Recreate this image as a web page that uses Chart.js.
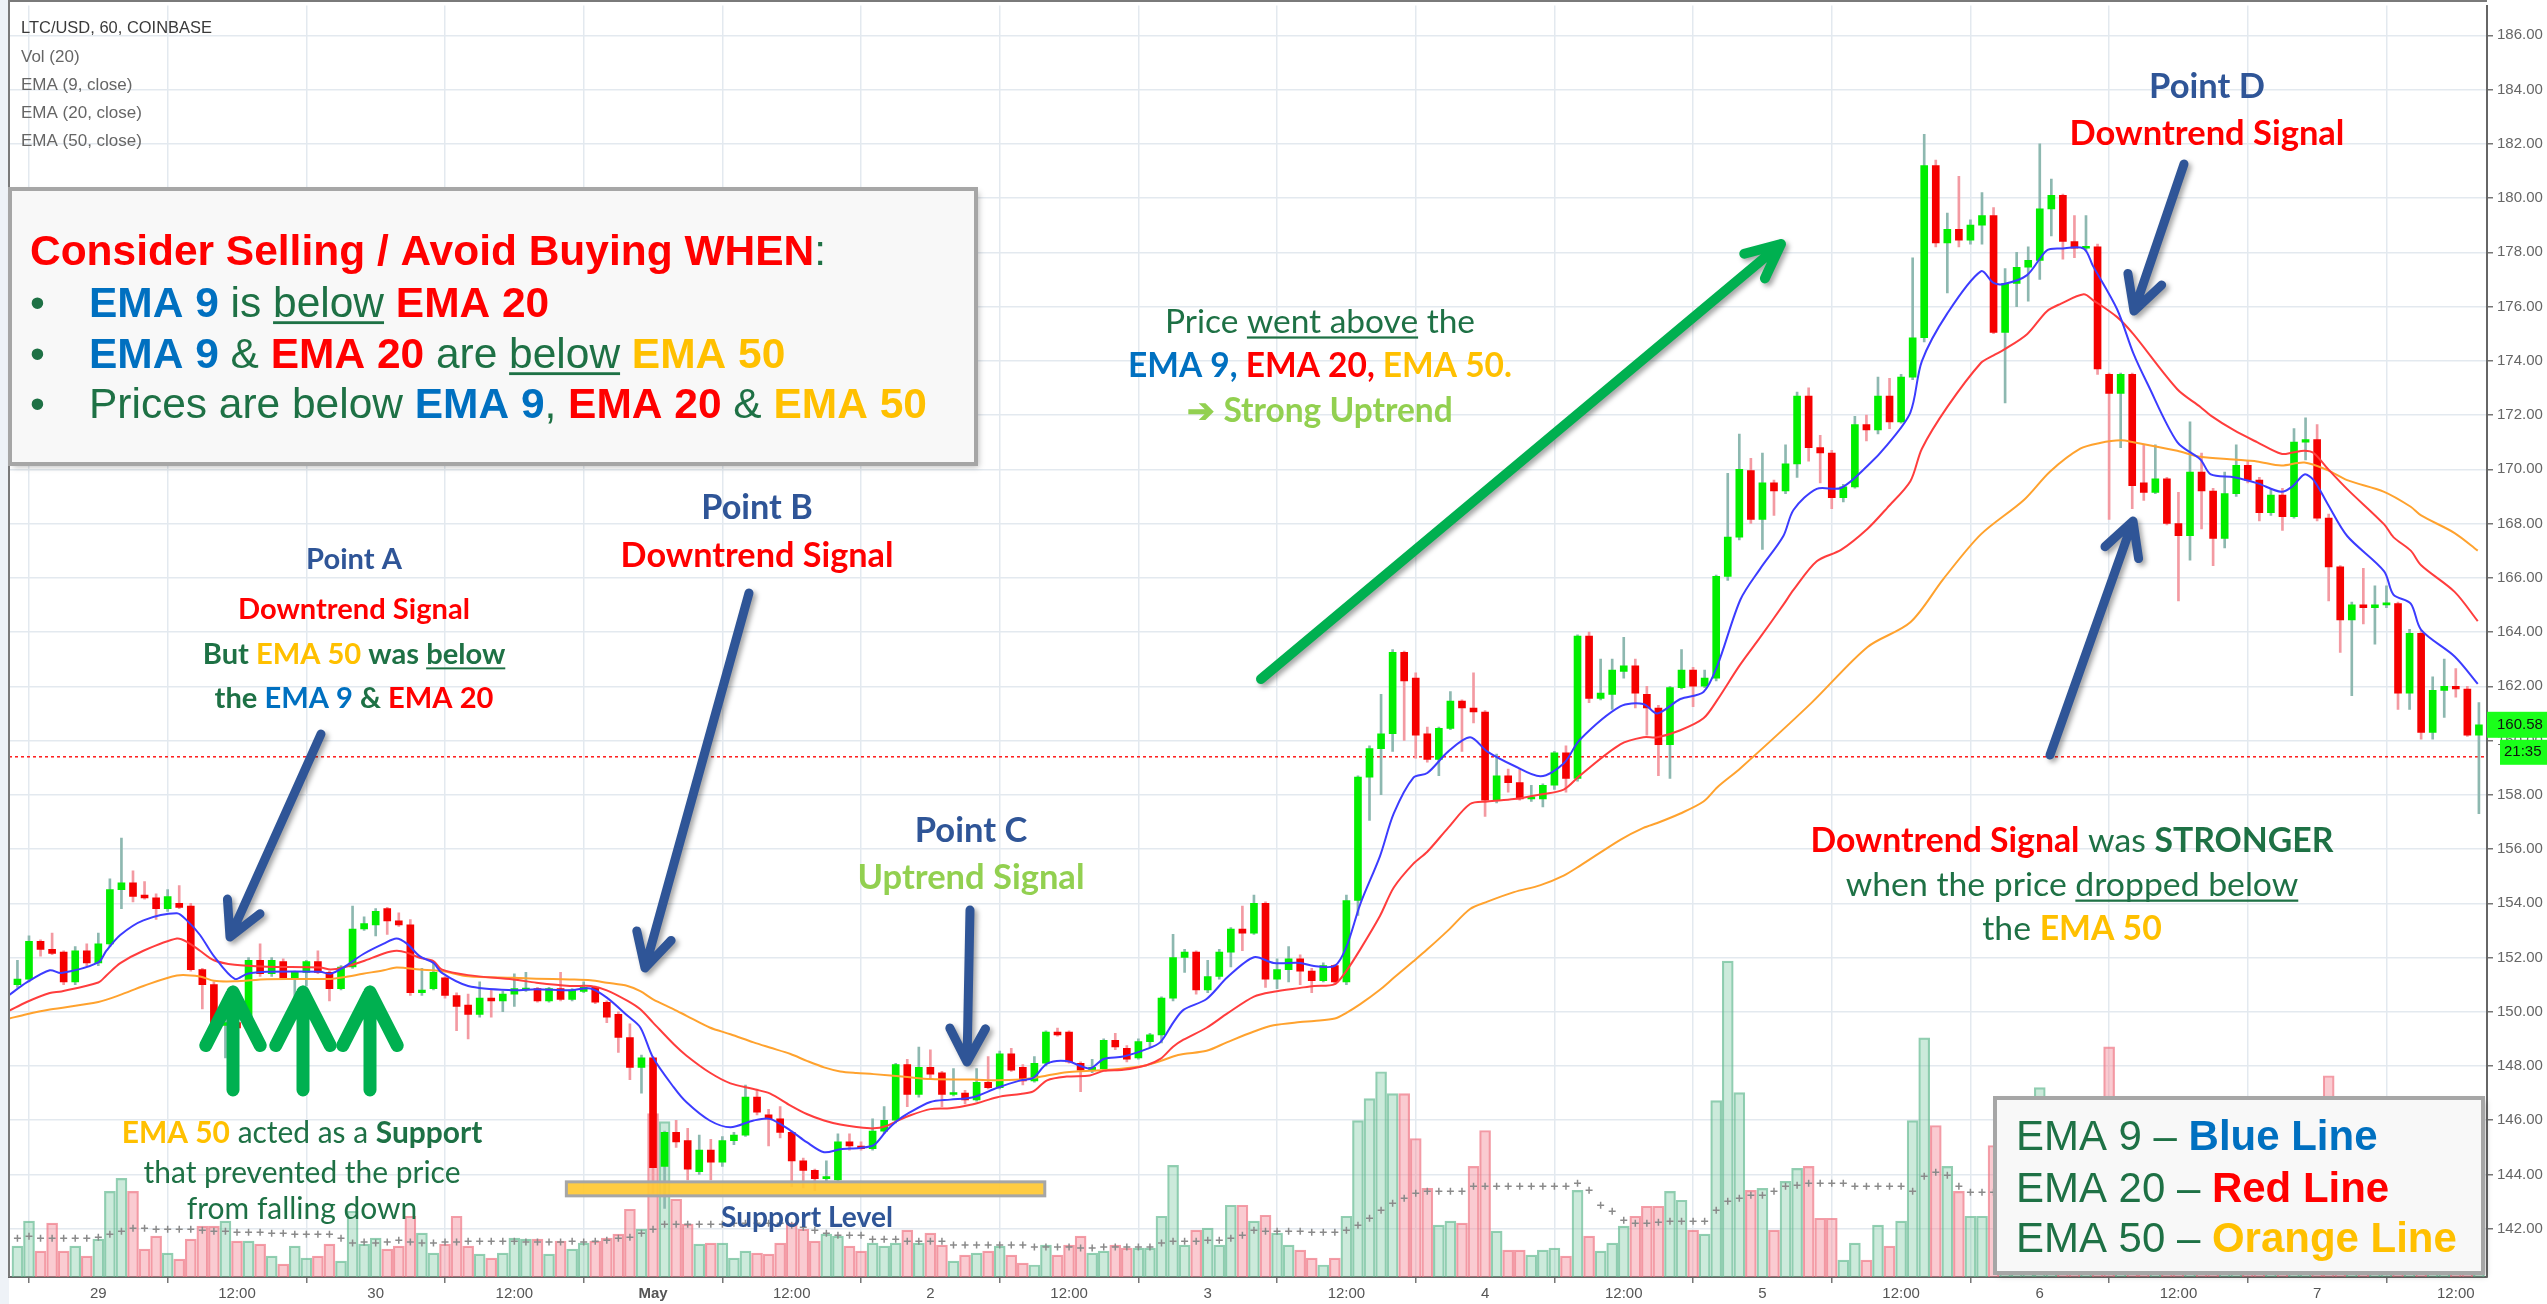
<!DOCTYPE html>
<html lang="en">
<head>
<meta charset="UTF-8">
<title>LTC/USD 60 - EMA signals</title>
<script src="https://cdn.jsdelivr.net/npm/chart.js"></script>
<style>
  html, body { margin: 0; padding: 0; background: #fff; overflow: hidden; }
</style>
</head>
<body>
<canvas id="chart" width="2547" height="1304"></canvas>
<script>
// hours counted from 29 Apr 00:00, one candle per hour
const firstHour = -7;

const opens = [
  151.0, 151.2, 152.6, 152.3, 152.2, 151.1, 152.25, 151.8,
  152.5, 154.5, 154.75, 154.3, 154.2, 153.8, 154.0, 153.9, 151.55, 151.0,
  149.5, 149.6, 149.4, 151.9, 151.4, 151.85, 151.25, 151.45, 151.85, 151.45,
  150.85, 151.65, 153.05, 153.2, 153.8, 153.35, 153.2, 150.7, 150.85, 151.25,
  150.6, 150.25, 149.9, 150.5, 150.4, 150.65, 150.8, 150.85, 150.4, 150.85,
  150.45, 150.75, 150.9, 150.35, 149.9, 149.05, 147.95, 148.3, 144.3, 145.55,
  145.25, 144.1, 144.9, 144.45, 145.25, 145.45, 146.85, 146.2, 146.05, 145.55,
  144.5, 144.15, 143.85, 143.8, 145.2, 145.05, 144.95, 145.6, 146.0, 148.05,
  146.95, 147.95, 147.75, 146.95, 147.0, 146.75, 147.4, 147.2, 148.45, 147.95,
  147.45, 148.1, 149.25, 149.25, 148.1, 147.85, 147.9, 148.95, 148.65, 148.3,
  148.9, 149.15, 150.5, 152.0, 152.2, 150.8, 151.3, 152.2, 153.05, 152.9,
  154.0, 151.2, 151.55, 151.95, 151.5, 151.15, 151.7, 151.1, 154.1, 158.65,
  159.7, 160.25, 163.25, 162.3, 160.25, 159.3, 160.45, 161.45, 161.2, 161.05,
  157.8, 158.7, 158.45, 157.85, 157.85, 158.35, 159.55, 158.6, 163.85, 161.55,
  161.7, 162.55, 162.75, 161.7, 161.2, 159.85, 161.95, 162.6, 162.0, 162.3,
  166.05, 167.5, 169.95, 168.15, 169.5, 169.2, 170.2, 172.7, 170.8, 170.6,
  168.95, 169.35, 171.65, 171.45, 172.7, 171.75, 173.4, 174.85, 181.2, 178.35,
  178.85, 178.45, 179.0, 179.35, 175.05, 176.85, 177.45, 177.7, 179.6, 180.1,
  178.4, 178.15, 178.2, 173.5, 172.8, 173.5, 169.5, 169.15, 169.65, 168.0,
  167.55, 169.9, 169.2, 167.45, 169.1, 170.15, 169.6, 168.4, 169.05, 168.25,
  171.0, 171.1, 168.2, 166.4, 164.45, 165.0, 164.9, 165.0, 165.05, 161.75,
  163.95, 160.3, 161.85, 162.0, 161.9, 160.2
];
const highs = [
  151.9, 152.8, 152.65, 152.9, 152.25, 152.4, 152.5, 152.9,
  154.9, 156.4, 155.2, 154.8, 154.35, 154.5, 154.65, 154.0, 151.6, 151.1,
  149.8, 149.7, 152.0, 152.5, 152.0, 151.95, 151.5, 151.9, 152.25, 151.5,
  151.7, 153.9, 153.5, 153.8, 153.85, 153.65, 153.4, 151.6, 151.8, 151.3,
  150.7, 150.65, 151.1, 150.8, 150.75, 151.4, 151.45, 150.9, 150.9, 151.45,
  150.85, 151.1, 150.95, 150.4, 150.0, 149.55, 148.4, 148.35, 145.6, 146.0,
  145.7, 145.45, 145.3, 145.4, 145.55, 147.3, 147.15, 146.4, 146.5, 145.6,
  144.6, 144.2, 144.5, 145.5, 145.5, 145.2, 146.05, 146.5, 148.1, 148.25,
  148.7, 148.6, 147.8, 147.9, 147.1, 147.9, 148.35, 148.55, 148.65, 148.05,
  148.35, 149.3, 149.4, 149.3, 148.15, 148.25, 149.0, 149.2, 148.75, 149.0,
  149.2, 150.55, 152.85, 152.3, 152.25, 151.9, 152.3, 153.1, 153.9, 154.3,
  154.05, 151.95, 152.4, 152.1, 151.6, 151.8, 151.75, 154.3, 158.7, 159.8,
  161.7, 163.35, 163.3, 162.5, 160.5, 160.5, 161.8, 161.5, 162.5, 161.1,
  159.5, 158.95, 158.95, 158.35, 158.4, 159.6, 159.8, 163.9, 164.0, 163.0,
  163.0, 163.8, 163.0, 162.0, 161.3, 162.0, 163.35, 162.7, 162.6, 166.1,
  169.85, 171.3, 170.4, 170.6, 169.6, 170.9, 172.85, 173.0, 171.25, 170.7,
  169.45, 171.95, 172.0, 173.4, 173.35, 173.5, 177.8, 182.35, 181.4, 179.45,
  180.8, 179.2, 180.2, 179.65, 177.4, 178.0, 178.2, 182.0, 180.7, 180.15,
  179.35, 179.35, 178.3, 173.55, 173.55, 173.55, 170.9, 170.9, 169.7, 169.15,
  171.75, 170.6, 169.3, 169.9, 170.9, 170.3, 169.7, 169.3, 169.3, 171.5,
  171.9, 171.65, 168.35, 166.45, 165.1, 166.35, 165.7, 165.7, 165.1, 164.1,
  164.05, 162.35, 163.0, 162.65, 162.0, 161.4
];
const lows = [
  150.9, 151.1, 152.05, 152.1, 151.0, 151.0, 151.7, 151.7,
  152.4, 153.8, 154.05, 154.15, 153.4, 153.7, 153.8, 151.5, 150.1, 149.4,
  148.3, 149.2, 149.3, 151.3, 151.3, 151.2, 150.2, 150.95, 151.4, 150.4,
  150.8, 151.6, 153.0, 152.8, 152.85, 153.15, 150.6, 150.6, 150.8, 150.5,
  149.3, 149.0, 149.8, 149.8, 150.0, 150.2, 150.75, 150.35, 150.35, 150.4,
  150.4, 150.7, 150.3, 149.6, 148.5, 147.5, 147.0, 143.3, 142.75, 145.0,
  143.8, 144.0, 143.8, 144.3, 145.1, 145.4, 146.2, 145.05, 145.35, 143.55,
  143.5, 143.4, 143.7, 143.7, 144.9, 144.9, 144.9, 145.5, 145.9, 146.5,
  146.85, 147.5, 146.5, 146.9, 146.6, 146.7, 147.15, 147.15, 147.8, 147.3,
  147.4, 148.0, 149.1, 148.1, 147.05, 147.75, 147.85, 148.6, 148.15, 148.25,
  148.7, 148.85, 150.4, 151.45, 150.65, 150.7, 151.2, 151.65, 152.25, 152.85,
  150.9, 150.85, 151.1, 151.0, 150.7, 151.1, 151.0, 151.0, 153.55, 157.05,
  158.0, 159.6, 160.0, 159.35, 159.2, 158.7, 160.4, 159.6, 160.65, 157.2,
  157.7, 158.1, 157.8, 157.75, 157.55, 158.2, 158.1, 158.5, 161.4, 161.5,
  161.15, 162.3, 161.2, 160.2, 158.7, 158.6, 161.9, 161.25, 161.95, 162.2,
  165.9, 167.4, 168.0, 167.05, 168.3, 169.1, 169.7, 170.3, 169.5, 168.55,
  168.8, 169.3, 171.05, 171.3, 171.5, 171.7, 173.3, 174.7, 178.2, 176.5,
  178.2, 178.3, 178.3, 175.0, 172.45, 176.0, 176.2, 177.0, 178.6, 177.75,
  177.8, 178.05, 173.5, 168.15, 170.8, 168.55, 168.85, 169.1, 167.95, 165.15,
  166.65, 167.8, 166.45, 167.1, 169.0, 169.5, 168.1, 168.3, 167.75, 168.2,
  170.35, 168.1, 165.15, 163.25, 161.65, 164.3, 163.55, 164.9, 161.15, 161.15,
  160.05, 160.05, 160.85, 161.6, 160.15, 157.3
];
const closes = [
  151.2, 152.6, 152.3, 152.15, 151.1, 152.25, 151.8, 152.5,
  154.5, 154.75, 154.25, 154.2, 153.8, 154.25, 153.85, 151.55, 151.0, 149.5,
  149.6, 149.4, 151.9, 151.4, 151.9, 151.25, 151.45, 151.85, 151.45, 150.85,
  151.65, 153.05, 153.25, 153.7, 153.35, 153.2, 150.7, 150.8, 151.45, 150.6,
  150.2, 149.9, 150.5, 150.4, 150.65, 150.85, 150.85, 150.4, 150.85, 150.45,
  150.8, 150.9, 150.35, 149.8, 149.05, 147.95, 148.3, 144.25, 145.55, 145.2,
  144.2, 144.9, 144.45, 145.25, 145.45, 146.85, 146.3, 146.05, 145.55, 144.5,
  144.15, 143.85, 143.9, 145.2, 145.05, 144.95, 145.6, 146.0, 148.05, 146.95,
  147.95, 147.7, 146.95, 147.0, 146.75, 147.4, 147.2, 148.45, 147.85, 147.45,
  148.1, 149.25, 149.15, 148.15, 147.85, 147.95, 148.95, 148.7, 148.25, 148.9,
  149.15, 150.5, 152.0, 152.2, 150.8, 151.3, 152.2, 153.05, 152.9, 154.0,
  151.2, 151.55, 151.95, 151.5, 151.15, 151.7, 151.1, 154.1, 158.65, 159.7,
  160.25, 163.25, 162.2, 160.2, 159.3, 160.45, 161.45, 161.2, 161.05, 157.8,
  158.7, 158.45, 157.85, 157.9, 158.35, 159.55, 158.6, 163.85, 161.55, 161.75,
  162.6, 162.75, 161.75, 161.2, 159.85, 161.95, 162.6, 162.0, 162.3, 166.05,
  167.5, 170.0, 168.15, 169.5, 169.2, 170.2, 172.7, 170.8, 170.6, 168.95,
  169.35, 171.65, 171.45, 172.7, 171.75, 173.4, 174.85, 181.2, 178.35, 178.85,
  178.45, 179.0, 179.35, 175.05, 176.85, 177.45, 177.7, 179.6, 180.1, 178.4,
  178.15, 178.2, 173.7, 172.8, 173.5, 169.4, 169.15, 169.65, 168.0, 167.55,
  169.9, 169.2, 167.45, 169.1, 170.15, 169.6, 168.4, 169.05, 168.25, 171.0,
  171.1, 168.2, 166.4, 164.45, 165.0, 164.9, 165.0, 165.05, 161.75, 163.95,
  160.3, 161.85, 162.0, 161.9, 160.2, 160.58
];
const volumes = [
  310, 560, 260, 540, 260, 310, 210, 380,
  860, 990, 860, 280, 410, 240, 180, 380, 510, 510,
  560, 360, 360, 330, 210, 130, 310, 190, 210, 330,
  160, 660, 330, 390, 280, 310, 610, 440, 240, 330,
  610, 310, 230, 190, 240, 390, 380, 380, 230, 360,
  280, 340, 360, 390, 430, 680, 480, 1640, 1560, 780,
  530, 330, 340, 340, 190, 260, 240, 230, 340, 540,
  480, 360, 430, 410, 310, 260, 340, 310, 340, 470,
  340, 440, 320, 160, 220, 240, 260, 310, 220, 140,
  120, 320, 220, 320, 410, 240, 260, 320, 290, 290,
  290, 610, 1120, 320, 470, 490, 320, 720, 720, 560,
  620, 440, 320, 270, 190, 120, 190, 610, 1570, 1790,
  2060, 1840, 1840, 1390, 890, 520, 560, 540, 1110, 1470,
  460, 270, 270, 220, 270, 290, 210, 870, 410, 260,
  340, 510, 610, 710, 710, 860, 770, 470, 430, 1770,
  3170, 1850, 870, 890, 470, 960, 1090, 1110, 590, 590,
  170, 340, 170, 520, 310, 560, 1570, 2400, 1520, 1110,
  860, 610, 610, 1320, 950, 700, 800, 1900, 750, 900,
  600, 550, 1500, 2310, 1200, 1400, 800, 600, 750, 950,
  1100, 700, 800, 650, 600, 450, 550, 400, 500, 850,
  600, 1400, 2020, 1200, 900, 550, 500, 400, 1100, 800,
  1200, 750, 500, 450, 700, 600
];
// Vol (20) average, one "+" per candle
const volAvg = [
  390, 410, 390, 390, 390, 390, 390, 400,
  430, 460, 490, 490, 480, 480, 480, 480, 470, 460,
  460, 450, 450, 450, 440, 440, 430, 430, 430, 430,
  390, 340, 350, 340, 350, 370, 350, 340, 340, 350,
  350, 360, 360, 360, 360, 360, 350, 350, 350, 350,
  360, 350, 360, 370, 390, 400, 440, 480, 530, 530,
  530, 530, 530, 530, 540, 540, 540, 540, 540, 520,
  500, 470, 440, 420, 420, 420, 380, 380, 380, 360,
  360, 360, 360, 320, 320, 320, 320, 320, 320, 320,
  300, 300, 300, 300, 290, 290, 300, 300, 300, 300,
  300, 340, 360, 360, 360, 370, 370, 390, 420, 470,
  460, 460, 460, 460, 450, 450, 450, 470, 520, 590,
  670, 740, 790, 840, 860, 860, 860, 860, 910, 910,
  910, 910, 910, 910, 910, 910, 910, 940, 870, 720,
  660, 570, 540, 540, 550, 560, 560, 560, 560, 670,
  760, 790, 820, 820, 860, 910, 920, 940, 940, 940,
  940, 910, 910, 910, 910, 910, 860, 1010, 1050, 1020,
  910, 850, 850, 850,
  880, 880, 900, 950, 950, 960, 950, 940, 1000, 1060,
  1080, 1100, 1080, 1040, 1000, 1000, 1020, 1000, 980, 960,
  920, 880, 850, 830, 820, 840, 880, 900, 920, 920,
  900, 880, 860, 850, 860, 880, 860, 840, 820, 800,
  800, 790
];

// EMA lines: [hour, price]
const ema9 = [
  [-7.7, 150.62], [-6.2, 151.08], [-4.2, 151.53], [-3.2, 151.43], [0, 151.82], [0.7, 152.25],
  [1.9, 152.83], [3.9, 153.37], [6.8, 153.63], [7.7, 153.35], [8.8, 152.83], [10, 152.05],
  [11.8, 151.21], [12.9, 151.4], [14.6, 151.47], [19.2, 151.47], [20.1, 151.4], [21.2, 151.63],
  [22.9, 152.12], [24.7, 152.51], [25.8, 152.7], [26.7, 152.51], [27.8, 152.05], [29, 151.8],
  [29.7, 151.44], [32, 150.95], [35.9, 150.79], [37.9, 150.83], [40.8, 150.79], [42.6, 150.86],
  [44, 150.52], [45.8, 149.85], [46.9, 149.42], [48, 148.31], [49.8, 147.21], [50.9, 146.66],
  [52.9, 145.99], [54.7, 145.74], [56.7, 145.99], [58.1, 146.05], [59.9, 145.62], [61.3, 145.19],
  [62.8, 144.82], [64.2, 144.93], [65.9, 144.98], [67.1, 145.08], [68.2, 145.61], [69.1, 145.97],
  [70, 146.23], [72, 146.67], [73.7, 146.76], [75.7, 146.85], [77.8, 147.2], [79.8, 147.47],
  [80.9, 147.56], [82.1, 148.09], [83.8, 148.18], [85.8, 147.91], [87, 148.26], [88.7, 148.35],
  [90.7, 148.62], [91.9, 148.88], [93, 149.59], [93.9, 150.07], [95.9, 150.47], [97.7, 151.27],
  [100, 152.01], [101.7, 151.8], [104, 151.8], [105.2, 151.69], [107, 151.69], [108, 152.39],
  [109.2, 153.97], [110.9, 155.73], [112.1, 157.31], [113.8, 158.63], [115, 158.8], [116.8, 159.59],
  [118.7, 160.12], [120.2, 159.59], [122.5, 159.07], [124.8, 158.68], [126.8, 159.15], [128.2, 160.03],
  [131.7, 161.26], [133.7, 161.35], [134.9, 161.0], [136.9, 161.53], [138.9, 161.79], [140.1, 162.76],
  [142.1, 165.2], [143.8, 166.33], [145.8, 167.53], [146.7, 168.51], [148.7, 169.28], [150.8, 169.31],
  [153.1, 170.13], [154.8, 170.9], [156.8, 172.09], [157.8, 173.99], [160, 175.75], [162.9, 177.3],
  [164, 176.87], [164.9, 176.83], [166.9, 177.16], [168.6, 178.07], [169.8, 178.14], [171.8, 178.14],
  [172.6, 177.5], [174.7, 175.89], [176.1, 174.27], [177.3, 173.17], [179.9, 171.0], [181.9, 170.36],
  [182.8, 169.81], [184.8, 169.71], [186.8, 169.49], [188.9, 169.17], [189.9, 169.38], [190.9, 169.81],
  [191.7, 169.6], [192.9, 168.73], [194.6, 167.54], [197.8, 166.24], [198.6, 165.38], [200.1, 165.05],
  [201, 164.08], [203.9, 163.1], [205.9, 162.09]
];
const ema20 = [
  [-7.7, 150.04], [-6.2, 150.36], [-4.2, 150.69], [-3.2, 150.75], [0, 151.08], [0.7, 151.34],
  [1.9, 151.79], [3.9, 152.25], [6.8, 152.7], [7.7, 152.57], [8.8, 152.25], [10, 151.9],
  [11.8, 151.73], [14.6, 151.66], [19.2, 151.63], [20.1, 151.56], [21.2, 151.63], [22.9, 151.86],
  [24.7, 152.15], [25.8, 152.25], [26.7, 152.18], [27.8, 151.99], [29, 151.87], [29.7, 151.56],
  [32, 151.35], [35.9, 151.19], [37.9, 151.07], [40.8, 150.95], [42.6, 150.95], [44, 150.79],
  [45.8, 150.4], [46.9, 150.09], [48, 149.6], [49.8, 148.8], [50.9, 148.38], [52.9, 147.76],
  [54.7, 147.36], [56.7, 147.15], [58.1, 146.99], [59.9, 146.54], [61.3, 146.23], [62.8, 145.99],
  [64.2, 145.84], [65.6, 145.75], [67.1, 145.7], [68.2, 145.79], [69.1, 145.97], [70, 146.14],
  [72, 146.41], [73.7, 146.44], [75.7, 146.59], [77.8, 146.85], [79.8, 146.97], [80.9, 147.06],
  [82.1, 147.47], [83.8, 147.61], [85.8, 147.65], [87, 147.82], [88.7, 147.86], [90.7, 148.03],
  [91.9, 148.26], [93, 148.71], [93.9, 148.97], [95.9, 149.41], [97.7, 149.94], [100, 150.56],
  [101.7, 150.74], [104, 150.88], [105.2, 150.95], [107, 151.02], [108, 151.51], [109.2, 152.3],
  [110.9, 153.53], [112.1, 154.58], [113.8, 155.46], [115, 155.9], [116.8, 156.78], [118.7, 157.66],
  [120.2, 157.75], [122.5, 157.84], [124.8, 158.01], [126.8, 158.19], [128.2, 158.71], [131.7, 159.86],
  [133.7, 160.12], [134.9, 160.12], [136.9, 160.38], [138.9, 160.82], [140.1, 161.5], [142, 162.75],
  [143.8, 163.8], [145.8, 165.0], [146.7, 165.56], [148.7, 166.61], [150.8, 167.03], [153.1, 167.81],
  [154.8, 168.58], [156.8, 169.56], [157.8, 170.76], [160, 172.3], [162.9, 173.92], [164, 174.2],
  [164.9, 174.41], [166.9, 174.98], [168.6, 175.82], [169.8, 176.1], [171.8, 176.45], [172.6, 176.24],
  [174.7, 175.61], [176.1, 174.98], [179.9, 172.95], [181.9, 172.3], [182.8, 171.98], [184.8, 171.44],
  [186.8, 171.0], [188.9, 170.57], [189.9, 170.62], [190.9, 170.68], [191.7, 170.6], [192.9, 170.03],
  [194.6, 169.27], [197.8, 167.97], [198.6, 167.5], [200.1, 167.0], [201, 166.46], [203.9, 165.48],
  [205.9, 164.4]
];
const ema50 = [
  [-7.7, 149.75], [-6.2, 149.91], [-4.2, 150.08], [0, 150.36], [1.9, 150.62], [3.9, 150.95],
  [6.8, 151.34], [8.8, 151.3], [10, 151.14], [11.8, 151.12], [14.6, 151.2], [20.1, 151.21],
  [21.2, 151.27], [22.9, 151.4], [24.7, 151.53], [25.8, 151.63], [27.8, 151.56], [29.7, 151.5],
  [32, 151.31], [35.9, 151.25], [37.9, 151.22], [40.8, 151.19], [42.6, 151.16], [44, 151.07],
  [45.8, 150.95], [46.9, 150.76], [48, 150.46], [49.8, 150.09], [50.9, 149.85], [52.9, 149.42],
  [54.7, 149.17], [56.7, 148.87], [58.1, 148.68], [59.9, 148.44], [61.3, 148.19], [62.8, 147.95],
  [64.2, 147.8], [65.6, 147.74], [67.1, 147.7], [70, 147.59], [72, 147.52], [75.7, 147.5],
  [77.8, 147.47], [79.8, 147.5], [80.9, 147.56], [82.1, 147.65], [83.8, 147.77], [85.8, 147.82],
  [88.7, 147.91], [90.7, 148.03], [91.9, 148.18], [93, 148.35], [93.9, 148.44], [95.9, 148.56],
  [97.7, 148.88], [100, 149.27], [101.7, 149.5], [104, 149.62], [105.2, 149.66], [107, 149.75],
  [108, 149.96], [109.2, 150.28], [110.9, 150.81], [112.1, 151.25], [113.8, 151.86], [115, 152.3],
  [116.8, 153.0], [118.7, 153.79], [120.2, 154.06], [122.5, 154.41], [124.8, 154.67], [126.8, 155.02],
  [128.2, 155.38], [131.7, 156.34], [133.7, 156.78], [134.9, 156.96], [136.9, 157.31], [138.9, 157.75],
  [140.1, 158.28], [142.1, 158.98], [148.2, 161.37], [153.1, 163.45], [156.8, 164.36], [159.7, 165.98],
  [162.9, 167.6], [166.6, 168.86], [168.9, 169.92], [171.5, 170.76], [173.2, 170.97], [175, 171.07],
  [176.1, 171.0], [179.9, 170.68], [181.9, 170.46], [184.8, 170.36], [186.8, 170.29], [188.9, 170.14],
  [190.9, 170.25], [192.9, 169.97], [194.6, 169.6], [197.8, 169.17], [200.1, 168.62], [201, 168.3],
  [203.9, 167.65], [205.9, 167.0]
];

const tickHours = [0, 12, 24, 36, 48, 60, 72, 84, 96, 108, 120, 132, 144, 156, 168, 180, 192, 204];
const tickLabels = ['29', '12:00', '30', '12:00', 'May', '12:00', '2', '12:00', '3', '12:00',
                    '4', '12:00', '5', '12:00', '6', '12:00', '7', '12:00'];
const priceTicks = [142, 144, 146, 148, 150, 152, 154, 156, 158, 160, 162, 164, 166, 168, 170,
                    172, 174, 176, 178, 180, 182, 184, 186];
const markedLevel = 159.4;          // red dotted line
const supportLevel = 143.47;        // yellow bar
const supportFrom = 40.5, supportTo = 81.9;
const countdown = '21:35';

const hours = opens.map((_, k) => firstHour + k);
const isUp = hours.map((_, k) => closes[k] >= opens[k]);

const NAVY = '#2f5597', RED = '#ff0000', DKGREEN = '#1e7145', LIME = '#92d050',
      GOLD = '#ffc000', BLUE = '#0070c0';
const LATO = 'Lato, "Open Sans", sans-serif';
const ARIAL = '"Liberation Sans", Arial, sans-serif';

// --- text helpers ---
function segFont(s, size, fam) { return (s[2] ? 'bold ' : '') + size + 'px ' + fam; }
function segsWidth(ctx, segs, size, fam) {
  let w = 0;
  segs.forEach(s => { ctx.font = segFont(s, size, fam); w += ctx.measureText(s[0]).width; });
  return w;
}
function drawSegs(ctx, segs, x, y, size, fam, align) {
  const w = segsWidth(ctx, segs, size, fam);
  let cx = align === 'center' ? x - w / 2 : x;
  ctx.textAlign = 'left';
  ctx.textBaseline = 'alphabetic';
  segs.forEach(s => {
    ctx.font = segFont(s, size, fam);
    ctx.fillStyle = s[1];
    ctx.fillText(s[0], cx, y);
    const sw = ctx.measureText(s[0]).width;
    if (s[3]) ctx.fillRect(cx, y + size * 0.1, sw, Math.max(1.5, size / 15));
    cx += sw;
  });
}
function drawBlock(ctx, b) {
  const size = 100 * b.w / segsWidth(ctx, b.lines[b.ref].segs, 100, b.fam);
  b.lines.forEach(l => {
    const y = b.mid ? l.y + size * 0.36 : l.y;
    drawSegs(ctx, l.segs, l.x !== undefined ? l.x : b.x, y, size, b.fam, b.align);
  });
  return size;
}
function arrow(ctx, x0, y0, x1, y1, color, width, head, angDeg, shadow) {
  ctx.save();
  ctx.strokeStyle = color;
  ctx.lineWidth = width;
  ctx.lineCap = 'round';
  ctx.lineJoin = 'round';
  if (shadow) {
    ctx.shadowColor = 'rgba(0,0,0,0.35)';
    ctx.shadowBlur = 5;
    ctx.shadowOffsetX = 3;
    ctx.shadowOffsetY = 3;
  }
  const a = Math.atan2(y0 - y1, x0 - x1), t = angDeg * Math.PI / 180;
  ctx.beginPath();
  ctx.moveTo(x0, y0);
  ctx.lineTo(x1, y1);
  ctx.moveTo(x1 + head * Math.cos(a - t), y1 + head * Math.sin(a - t));
  ctx.lineTo(x1, y1);
  ctx.lineTo(x1 + head * Math.cos(a + t), y1 + head * Math.sin(a + t));
  ctx.stroke();
  ctx.restore();
}
function panel(ctx, x, y, w, h) {
  ctx.save();
  ctx.shadowColor = 'rgba(0,0,0,0.25)';
  ctx.shadowBlur = 6;
  ctx.shadowOffsetX = 3;
  ctx.shadowOffsetY = 3;
  ctx.fillStyle = '#f8f8f8';
  ctx.fillRect(x, y, w, h);
  ctx.restore();
  ctx.save();
  ctx.strokeStyle = '#a6a6a6';
  ctx.lineWidth = 4;
  ctx.strokeRect(x, y, w, h);
  ctx.restore();
}

const textBlocks = [
  { fam: LATO, x: 354, align: 'center', mid: true, ref: 1, w: 232, lines: [
    { y: 559, segs: [['Point A', NAVY, 1]] },
    { y: 609, segs: [['Downtrend Signal', RED, 1]] },
    { y: 654, segs: [['But ', DKGREEN, 1], ['EMA 50', GOLD, 1], [' was ', DKGREEN, 1], ['below', DKGREEN, 1, 1]] },
    { y: 698, segs: [['the ', DKGREEN, 1], ['EMA 9', BLUE, 1], [' & ', DKGREEN, 1], ['EMA 20', RED, 1]] }
  ]},
  { fam: LATO, x: 757, align: 'center', mid: true, ref: 1, w: 273, lines: [
    { y: 507, segs: [['Point B', NAVY, 1]] },
    { y: 555, segs: [['Downtrend Signal', RED, 1]] }
  ]},
  { fam: LATO, x: 971, align: 'center', mid: true, ref: 1, w: 227, lines: [
    { y: 830, segs: [['Point C', NAVY, 1]] },
    { y: 877, segs: [['Uptrend Signal', LIME, 1]] }
  ]},
  { fam: LATO, x: 1320, align: 'center', mid: true, ref: 1, w: 384, lines: [
    { y: 321, segs: [['Price ', DKGREEN], ['went above', DKGREEN, 0, 1], [' the', DKGREEN]] },
    { y: 365, segs: [['EMA 9,', BLUE, 1], [' EMA 20,', RED, 1], [' EMA 50.', GOLD, 1]] },
    { y: 410, segs: [['\u2794 ', LIME, 1], ['Strong Uptrend', LIME, 1]] }
  ]},
  { fam: LATO, x: 2207, align: 'center', mid: true, ref: 1, w: 275, lines: [
    { y: 86, segs: [['Point D', NAVY, 1]] },
    { y: 133, segs: [['Downtrend Signal', RED, 1]] }
  ]},
  { fam: LATO, x: 2072, align: 'center', mid: true, ref: 0, w: 523, lines: [
    { y: 840, segs: [['Downtrend Signal', RED, 1], [' was ', DKGREEN], ['STRONGER', DKGREEN, 1]] },
    { y: 884, segs: [['when the price ', DKGREEN], ['dropped below', DKGREEN, 0, 1]] },
    { y: 928, segs: [['the ', DKGREEN], ['EMA 50', GOLD, 1]] }
  ]},
  { fam: LATO, x: 302, align: 'center', mid: true, ref: 1, w: 317, lines: [
    { y: 1132, segs: [['EMA 50', GOLD, 1], [' acted as a ', DKGREEN], ['Support', DKGREEN, 1]] },
    { y: 1172, segs: [['that prevented the price', DKGREEN]] },
    { y: 1208, segs: [['from falling down', DKGREEN]] }
  ]},
  { fam: LATO, x: 807, align: 'center', mid: true, ref: 0, w: 172, lines: [
    { y: 1217, segs: [['Support Level', NAVY, 1]] }
  ]}
];
const sellBox = { fam: ARIAL, align: 'left', mid: false, ref: 0, w: 796, lines: [
  { x: 30, y: 265, segs: [['Consider Selling / Avoid Buying WHEN', RED, 1], [':', DKGREEN]] },
  { x: 89, y: 317, segs: [['EMA 9', BLUE, 1], [' is ', DKGREEN], ['below', DKGREEN, 0, 1], [' ', DKGREEN], ['EMA 20', RED, 1]] },
  { x: 89, y: 368, segs: [['EMA 9', BLUE, 1], [' & ', DKGREEN], ['EMA 20', RED, 1], [' are ', DKGREEN], ['below', DKGREEN, 0, 1], [' ', DKGREEN], ['EMA 50', GOLD, 1]] },
  { x: 89, y: 418, segs: [['Prices are below ', DKGREEN], ['EMA 9', BLUE, 1], [', ', DKGREEN], ['EMA 20', RED, 1], [' & ', DKGREEN], ['EMA 50', GOLD, 1]] }
]};
const legendBox = { fam: ARIAL, x: 2016, align: 'left', mid: false, ref: 2, w: 441, lines: [
  { y: 1150, segs: [['EMA 9 \u2013 ', DKGREEN], ['Blue Line', BLUE, 1]] },
  { y: 1202, segs: [['EMA 20 \u2013 ', DKGREEN], ['Red Line', RED, 1]] },
  { y: 1252, segs: [['EMA 50 \u2013 ', DKGREEN], ['Orange Line', GOLD, 1]] }
]};
const studyNames = [
  ['LTC/USD, 60, COINBASE', 28, 191, '#3a3a3a'],
  ['Vol (20)', 57, 61, '#666'],
  ['EMA (9, close)', 85, 113, '#666'],
  ['EMA (20, close)', 113, 122, '#666'],
  ['EMA (50, close)', 141, 122, '#666']
];

const overlay = {
  id: 'overlay',
  beforeDraw(chart) {
    const { ctx, width, height, chartArea } = chart;
    ctx.save();
    ctx.fillStyle = '#ffffff';
    ctx.fillRect(0, 0, width, height);
    ctx.fillStyle = '#eef2f7';
    ctx.fillRect(0, 0, chartArea.left, height);
    ctx.restore();
  },
  beforeDatasetsDraw(chart) {
    const { ctx, chartArea, scales } = chart;
    const y = scales.y.getPixelForValue(markedLevel);
    ctx.save();
    ctx.strokeStyle = '#ff1a1a';
    ctx.lineWidth = 1.5;
    ctx.setLineDash([3, 3]);
    ctx.beginPath();
    ctx.moveTo(chartArea.left, y);
    ctx.lineTo(chartArea.right, y);
    ctx.stroke();
    ctx.restore();
  },
  afterDraw(chart) {
    const { ctx, chartArea, scales } = chart;
    ctx.save();
    // frame lines
    ctx.strokeStyle = '#7a7a7a';
    ctx.lineWidth = 2;
    ctx.beginPath();
    ctx.moveTo(chartArea.left, 0);
    ctx.lineTo(chartArea.left, chartArea.bottom);
    ctx.moveTo(chartArea.left, 1);
    ctx.lineTo(chartArea.right, 1);
    ctx.stroke();

    // study names
    ctx.textBaseline = 'middle';
    ctx.textAlign = 'left';
    studyNames.forEach(([t, y, w, c]) => {
      ctx.font = '17px ' + ARIAL;
      ctx.fillStyle = c;
      ctx.fillText(t, 21, y, w);
    });

    // support bar
    const sx0 = scales.x.getPixelForValue(supportFrom), sx1 = scales.x.getPixelForValue(supportTo);
    const sy = scales.y.getPixelForValue(supportLevel);
    ctx.globalAlpha = 0.92;
    ctx.fillStyle = '#ffc832';
    ctx.fillRect(sx0, sy - 7, sx1 - sx0, 14);
    ctx.globalAlpha = 1;
    ctx.strokeStyle = '#a6a6a6';
    ctx.lineWidth = 3;
    ctx.strokeRect(sx0, sy - 7, sx1 - sx0, 14);

    // panels
    panel(ctx, 10, 189, 966, 275);
    panel(ctx, 1995, 1098, 488, 175);
    const sz = drawBlock(ctx, sellBox);
    ctx.font = sz + 'px ' + ARIAL;
    ctx.fillStyle = DKGREEN;
    [317, 368, 418].forEach(y => ctx.fillText('\u2022', 30, y));
    drawBlock(ctx, legendBox);

    // arrows
    arrow(ctx, 1261, 679, 1781, 244, '#00b050', 10, 38, 25, true);
    [233, 303, 370].forEach(x => arrow(ctx, x, 1090, x, 992, '#00b050', 13, 60, 27, false));
    [[321, 734, 230, 937], [749, 593, 645, 968], [970, 910, 967, 1062],
     [2184, 164, 2134, 311], [2050, 755, 2133, 521]].forEach(a =>
      arrow(ctx, a[0], a[1], a[2], a[3], NAVY, 9, 38, 28, true));

    textBlocks.forEach(b => drawBlock(ctx, b));

    // last price + countdown tags on the price axis
    const last = closes[closes.length - 1];
    const py = scales.y.getPixelForValue(last);
    ctx.fillStyle = '#1aff1a';
    ctx.fillRect(chartArea.right, py - 13, 60, 26);
    ctx.fillRect(chartArea.right + 13, py + 15, 47, 25);
    ctx.fillStyle = '#111';
    ctx.font = '15px ' + ARIAL;
    ctx.textBaseline = 'middle';
    ctx.fillText(last.toFixed(2), chartArea.right + 10, py);
    ctx.fillText(countdown, chartArea.right + 17, py + 27.5);
    ctx.restore();
  }
};

const gridStyle = { color: '#e3e9ef', lineWidth: 1.5, tickLength: 6, tickColor: '#777', drawTicks: true };

new Chart(document.getElementById('chart'), {
  type: 'bar',
  data: {
    datasets: [
      {
        type: 'line', label: 'EMA 9', yAxisID: 'y',
        data: ema9.map(p => ({ x: p[0], y: p[1] })),
        borderColor: '#3c3cff', borderWidth: 2, pointRadius: 0, tension: 0.3, order: 1
      },
      {
        type: 'line', label: 'EMA 20', yAxisID: 'y',
        data: ema20.map(p => ({ x: p[0], y: p[1] })),
        borderColor: '#ff3d3d', borderWidth: 2, pointRadius: 0, tension: 0.3, order: 1
      },
      {
        type: 'line', label: 'EMA 50', yAxisID: 'y',
        data: ema50.map(p => ({ x: p[0], y: p[1] })),
        borderColor: '#ffa22e', borderWidth: 2, pointRadius: 0, tension: 0.3, order: 1
      },
      {
        label: 'Body', yAxisID: 'y',
        data: hours.map((h, k) => ({ x: h, y: [opens[k], closes[k]] })),
        backgroundColor: isUp.map(u => u ? '#00ee00' : '#f50000'),
        barThickness: 7, minBarLength: 2, grouped: false, order: 2
      },
      {
        label: 'Wick', yAxisID: 'y',
        data: hours.map((h, k) => ({ x: h, y: [lows[k], highs[k]] })),
        backgroundColor: isUp.map(u => u ? '#8db8b0' : '#f39aa2'),
        barThickness: 2, grouped: false, order: 3
      },
      {
        type: 'line', label: 'Vol avg', yAxisID: 'vol',
        data: hours.map((h, k) => ({ x: h, y: volAvg[k] })),
        showLine: false, pointStyle: 'cross', pointRadius: 3.5, borderWidth: 1.5,
        borderColor: '#8a8a8a', order: 4
      },
      {
        label: 'Volume', yAxisID: 'vol',
        data: hours.map((h, k) => ({ x: h, y: volumes[k] })),
        backgroundColor: isUp.map(u => u ? 'rgba(120,200,160,0.38)' : 'rgba(242,130,145,0.42)'),
        borderColor: isUp.map(u => u ? 'rgba(100,185,145,0.7)' : 'rgba(238,115,130,0.7)'),
        borderWidth: 1.5, barThickness: 11, grouped: false, order: 5
      }
    ]
  },
  options: {
    responsive: false,
    animation: false,
    devicePixelRatio: 1,
    events: [],
    layout: { padding: { left: 9, top: 1, right: 0, bottom: 0 } },
    plugins: { legend: { display: false }, tooltip: { enabled: false } },
    scales: {
      x: {
        type: 'linear', min: -7.73, max: 206.7, offset: false,
        afterBuildTicks: s => { s.ticks = tickHours.map(v => ({ value: v })); },
        afterFit: s => { s.height = 27; s.paddingLeft = 0; s.paddingRight = 0; },
        grid: gridStyle,
        border: { color: '#666', width: 2 },
        ticks: {
          color: '#555', padding: 2, maxRotation: 0, autoSkip: false,
          font: c => ({ family: ARIAL, size: 15, weight: c.tick && c.tick.value === 48 ? 'bold' : 'normal' }),
          callback: v => tickLabels[tickHours.indexOf(v)]
        }
      },
      y: {
        position: 'right', min: 140.22, max: 187.1,
        afterBuildTicks: s => { s.ticks = priceTicks.map(v => ({ value: v })); },
        afterFit: s => { s.width = 60; s.paddingTop = 0; s.paddingBottom = 0; },
        grid: gridStyle,
        border: { color: '#666', width: 2 },
        ticks: { color: '#666', padding: 4, font: { family: ARIAL, size: 15 }, callback: v => v.toFixed(2) }
      },
      vol: {
        display: false, min: 0, max: 12760
      }
    }
  },
  plugins: [overlay]
});
</script>
</body>
</html>
